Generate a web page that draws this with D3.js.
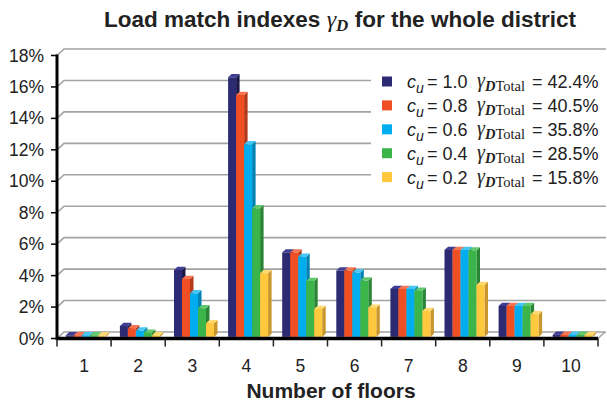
<!DOCTYPE html>
<html>
<head>
<meta charset="utf-8">
<script src="https://cdn.jsdelivr.net/npm/d3@7"></script>
<style>
	body { margin: 0; background: #fff; }
	text { font-family: "Liberation Sans", Arial, sans-serif; fill: #222; }
	.serif { font-family: "Liberation Serif", "Times New Roman", serif; }
</style>
</head>
<body>
<div id="chart"></div>
<script>

var floors = ["1", "2", "3", "4", "5", "6", "7", "8", "9", "10"]
var cuLabels = ["1.0", "0.8", "0.6", "0.4", "0.2"]
var totals = ["42.4%", "40.5%", "35.8%", "28.5%", "15.8%"]

// share of load match per floor count (%), one array per c_u
var cu10 = [0.10, 0.69, 4.26, 16.51, 5.37, 4.22, 3.05, 5.53, 1.97, 0.14]
var cu08 = [0.10, 0.55, 3.68, 15.39, 5.36, 4.22, 3.05, 5.53, 1.97, 0.14]
var cu06 = [0.10, 0.40, 2.77, 12.25, 5.10, 4.09, 3.05, 5.53, 1.97, 0.14]
var cu04 = [0.10, 0.27, 1.82, 8.18, 3.56, 3.58, 2.94, 5.50, 1.97, 0.14]
var cu02 = [0.08, 0.10, 0.87, 4.05, 1.78, 1.86, 1.65, 3.30, 1.44, 0.12]

var yTicks = [0, 2, 4, 6, 8, 10, 12, 14, 16, 18]

var series = [cu10, cu08, cu06, cu04, cu02]

var colors = [
	{front: "#2b2a72", side: "#1a1948", top: "#3f3e94"},
	{front: "#f04e23", side: "#b4381a", top: "#f77552"},
	{front: "#00aeef", side: "#0082b4", top: "#45c6f5"},
	{front: "#3bb44a", side: "#2a8436", top: "#62c86e"},
	{front: "#ffc83d", side: "#c9962b", top: "#ffd86e"}
]

var width = 607
var height = 404

// depth of the 3d box
var DX = 7
var DY = -6.5
var d1 = 0.25
var d2 = 0.75
var barW = 8

var svg = d3.select("#chart").append("svg")
	.attr("width", width)
	.attr("height", height)

svg.append("rect").attr("width", width).attr("height", height).attr("fill", "#fff")

var x = d3.scaleBand().domain(floors).range([57, 598]).paddingInner(0)
var y = d3.scaleLinear().domain([0, 18]).range([338.5, 55.5])
var xInner = d3.scaleBand().domain(d3.range(series.length)).range([0, barW * series.length])

var x0 = x.range()[0]
var x1 = x.range()[1]

// back wall gridlines with the short side wall bit
svg.append("g").selectAll("polyline")
	.data(yTicks)
	.enter().append("polyline")
	.attr("points", function(d) {
		return [[x0, y(d)], [x0 + DX, y(d) + DY], [x1 + DX + 1, y(d) + DY]].join(" ")
	})
	.attr("fill", "none")
	.attr("stroke", "#a3a3a3")
	.attr("stroke-width", 1.6)

// floor right edge
svg.append("line")
	.attr("x1", x1).attr("y1", y(0))
	.attr("x2", x1 + DX).attr("y2", y(0) + DY)
	.attr("stroke", "#a3a3a3").attr("stroke-width", 1.6)

// bars
var groups = svg.append("g").selectAll("g")
	.data(floors)
	.enter().append("g")

groups.each(function(f, i) {
	var g = d3.select(this)
	var gx = x(f) + (x.bandwidth() - xInner.range()[1]) / 2
	series.forEach(function(s, j) {
		var v = s[i]
		var c = colors[j]
		var xf = gx + xInner(j)
		var fx = xf + d1 * DX, fy = y(v) + d1 * DY
		var bx = xf + d2 * DX, by = y(v) + d2 * DY
		var baseF = y(0) + d1 * DY, baseB = y(0) + d2 * DY

		g.append("polygon")
			.attr("points", [[fx + barW, fy], [bx + barW, by], [bx + barW, baseB], [fx + barW, baseF]].join(" "))
			.attr("fill", c.side)
		g.append("polygon")
			.attr("points", [[fx, fy], [fx + barW, fy], [bx + barW, by], [bx, by]].join(" "))
			.attr("fill", c.top)
		g.append("rect")
			.attr("x", fx)
			.attr("y", fy)
			.attr("width", barW)
			.attr("height", baseF - fy)
			.attr("fill", c.front)
	})
})

// y axis
svg.append("line")
	.attr("x1", x0).attr("y1", y(18) - 1)
	.attr("x2", x0).attr("y2", y(0) + 1.5)
	.attr("stroke", "#000").attr("stroke-width", 3)

var yAxis = svg.append("g")
yAxis.selectAll("line")
	.data(yTicks)
	.enter().append("line")
	.attr("x1", x0 - 6).attr("x2", x0)
	.attr("y1", function(d) { return y(d) }).attr("y2", function(d) { return y(d) })
	.attr("stroke", "#000").attr("stroke-width", 1.5)

yAxis.selectAll("text")
	.data(yTicks)
	.enter().append("text")
	.attr("x", 44)
	.attr("y", function(d) { return y(d) + 6 })
	.attr("text-anchor", "end")
	.style("font-size", "17.5px")
	.text(function(d) { return d + "%" })

// x axis
svg.append("line")
	.attr("x1", x0 - 1).attr("y1", y(0))
	.attr("x2", x1).attr("y2", y(0))
	.attr("stroke", "#000").attr("stroke-width", 3.5)

var xAxis = svg.append("g")
xAxis.selectAll("line")
	.data(floors.concat(["end"]))
	.enter().append("line")
	.attr("x1", function(d) { return d == "end" ? x1 : x(d) })
	.attr("x2", function(d) { return d == "end" ? x1 : x(d) })
	.attr("y1", y(0)).attr("y2", y(0) + 8)
	.attr("stroke", "#222").attr("stroke-width", 1.5)

xAxis.selectAll("text")
	.data(floors)
	.enter().append("text")
	.attr("x", function(d) { return x(d) + x.bandwidth() / 2 })
	.attr("y", 372)
	.attr("text-anchor", "middle")
	.style("font-size", "17.5px")
	.text(function(d) { return d })

svg.append("text")
	.attr("x", 331)
	.attr("y", 398)
	.attr("text-anchor", "middle")
	.style("font-size", "21px")
	.style("font-weight", "bold")
	.text("Number of floors")

// title
var title = svg.append("text")
	.attr("x", 340)
	.attr("y", 27)
	.attr("text-anchor", "middle")
	.style("font-size", "22.5px")
	.style("font-weight", "bold")

title.append("tspan").text("Load match indexes ")
title.append("tspan").attr("class", "serif").style("font-style", "italic").style("font-weight", "normal").style("font-size", "24px").text("γ")
title.append("tspan").attr("class", "serif").style("font-style", "italic").style("font-size", "17px").attr("dy", 4).text("D")
title.append("tspan").attr("dy", -4).text(" for the whole district")

// legend
svg.append("rect")
	.attr("x", 371).attr("y", 66)
	.attr("width", 236).attr("height", 124)
	.attr("fill", "#fff")

var legend = svg.append("g").selectAll("g")
	.data(cuLabels)
	.enter().append("g")
	.attr("transform", function(d, i) { return "translate(0," + (81.5 + i * 23.9) + ")" })

legend.append("rect")
	.attr("x", 382).attr("y", -5)
	.attr("width", 10).attr("height", 10)
	.attr("fill", function(d, i) { return colors[i].front })

var cuText = legend.append("text")
	.attr("x", 407)
	.attr("y", 6.5)
	.style("font-size", "18px")
cuText.append("tspan").style("font-style", "italic").text("c")
cuText.append("tspan").style("font-style", "italic").style("font-size", "14px").attr("dy", 5).text("u")

legend.append("text")
	.attr("x", 427)
	.attr("y", 6.5)
	.style("font-size", "18px")
	.text(function(d) { return "= " + d })

var gText = legend.append("text")
	.attr("class", "serif")
	.attr("x", 477)
	.attr("y", 5.5)
	.style("font-size", "20px")
gText.append("tspan").style("font-style", "italic").text("γ")
gText.append("tspan").style("font-style", "italic").style("font-weight", "bold").style("font-size", "14.5px").attr("dy", 4).text("D")
gText.append("tspan").style("font-size", "14.5px").text("Total")

legend.append("text")
	.attr("x", 532)
	.attr("y", 6.5)
	.style("font-size", "18px")
	.text(function(d, i) { return "= " + totals[i] })

</script>
</body>
</html>
